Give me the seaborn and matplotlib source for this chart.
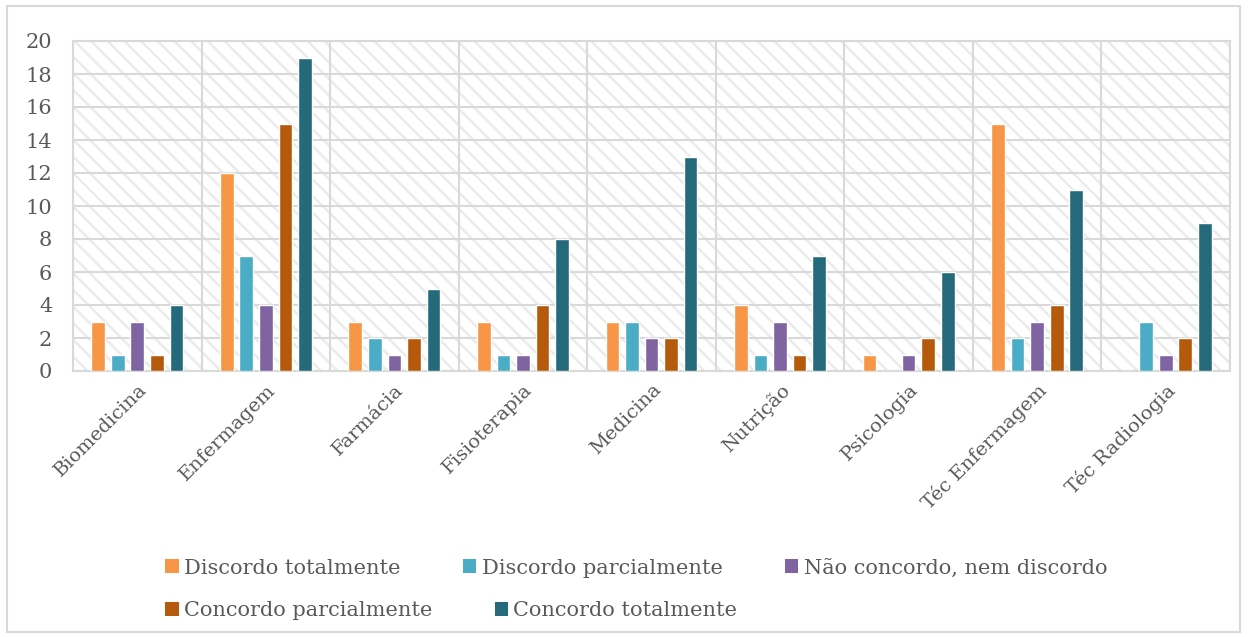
import matplotlib
matplotlib.use("Agg")
import matplotlib.pyplot as plt
from matplotlib.patches import Rectangle, Patch
import seaborn as sns
import pandas as pd

# Survey answers per course
cursos = ["Biomedicina", "Enfermagem", "Farmácia", "Fisioterapia", "Medicina",
          "Nutrição", "Psicologia", "Téc Enfermagem", "Téc Radiologia"]
respostas = ["Discordo totalmente", "Discordo parcialmente", "Não concordo, nem discordo",
             "Concordo parcialmente", "Concordo totalmente"]
discordo_totalmente = [3, 12, 3, 3, 3, 4, 1, 15, 0]
discordo_parcialmente = [1, 7, 2, 1, 3, 1, 0, 2, 3]
nem_concordo_nem_discordo = [3, 4, 1, 1, 2, 3, 1, 3, 1]
concordo_parcialmente = [1, 15, 2, 4, 2, 1, 2, 4, 2]
concordo_totalmente = [4, 19, 5, 8, 13, 7, 6, 11, 9]
y_ticks = [0, 2, 4, 6, 8, 10, 12, 14, 16, 18, 20]

series = [discordo_totalmente, discordo_parcialmente, nem_concordo_nem_discordo,
          concordo_parcialmente, concordo_totalmente]
cores = ["#F79646", "#4BACC6", "#8064A2", "#B55A0C", "#256A7B"]

linhas = []
for resp, vals in zip(respostas, series):
    for curso, v in zip(cursos, vals):
        linhas.append({"Curso": curso, "Resposta": resp, "Quantidade": v})
df = pd.DataFrame(linhas)

sns.set_theme(style="white")
plt.rcParams["font.family"] = ["DejaVu Serif"]
plt.rcParams["hatch.color"] = "#ebebeb"
plt.rcParams["hatch.linewidth"] = 1.8

fig = plt.figure(figsize=(12.48, 6.37), dpi=100)
fig.patches.append(Rectangle((7 / 1248, 5 / 637), 1233 / 1248, 626 / 637,
                             transform=fig.transFigure, fill=False,
                             edgecolor="#d9d9d9", linewidth=1.5))
ax = fig.add_axes([73 / 1248, 1 - 371 / 637, (1230 - 73) / 1248, (371 - 41) / 637])

# hatched plot-area background
ax.add_patch(Rectangle((0, 0), 1, 1, transform=ax.transAxes, facecolor="white",
                       edgecolor="#ebebeb", hatch="\\\\", linewidth=0, zorder=0))

sns.barplot(data=df, x="Curso", y="Quantidade", hue="Resposta", hue_order=respostas,
            palette=cores, width=0.76, gap=0.3, ax=ax, legend=False,
            saturation=1, zorder=3)

ax.set_ylim(0, 20)
ax.set_xlim(-0.5, len(cursos) - 0.5)
ax.set_yticks(y_ticks)
ax.set_yticklabels([str(t) for t in y_ticks], fontsize=15, color="#595959")
ax.set_xticks(range(len(cursos)))
ax.set_xticklabels(cursos, fontsize=14, color="#595959", rotation=45,
                   ha="right", rotation_mode="anchor")
ax.tick_params(axis="x", length=0, pad=7)
ax.tick_params(axis="y", length=0, pad=15)
ax.set_xlabel("")
ax.set_ylabel("")

# grid: horizontal every 2, vertical between categories
for t in y_ticks:
    ax.axhline(t, color="#d9d9d9", linewidth=1.5, zorder=1)
for i in range(len(cursos) + 1):
    ax.axvline(i - 0.5, color="#d9d9d9", linewidth=1.5, zorder=1)
for s in ax.spines.values():
    s.set_color("#d9d9d9")
    s.set_linewidth(1.5)

handles = [Patch(facecolor=c, edgecolor="none") for c in cores]
leg_kw = dict(frameon=False, fontsize=15, handlelength=0.65, handleheight=0.65,
              handletextpad=0.25, columnspacing=3.0, labelcolor="#595959",
              loc="center left", borderpad=0, borderaxespad=0)
fig.legend(handles[:3], respostas[:3], ncol=3,
           bbox_to_anchor=(165 / 1248, 1 - 568 / 637), **leg_kw)
fig.legend(handles[3:], respostas[3:], ncol=2,
           bbox_to_anchor=(165 / 1248, 1 - 611 / 637), **leg_kw)

fig.savefig("out.png", dpi=100)
